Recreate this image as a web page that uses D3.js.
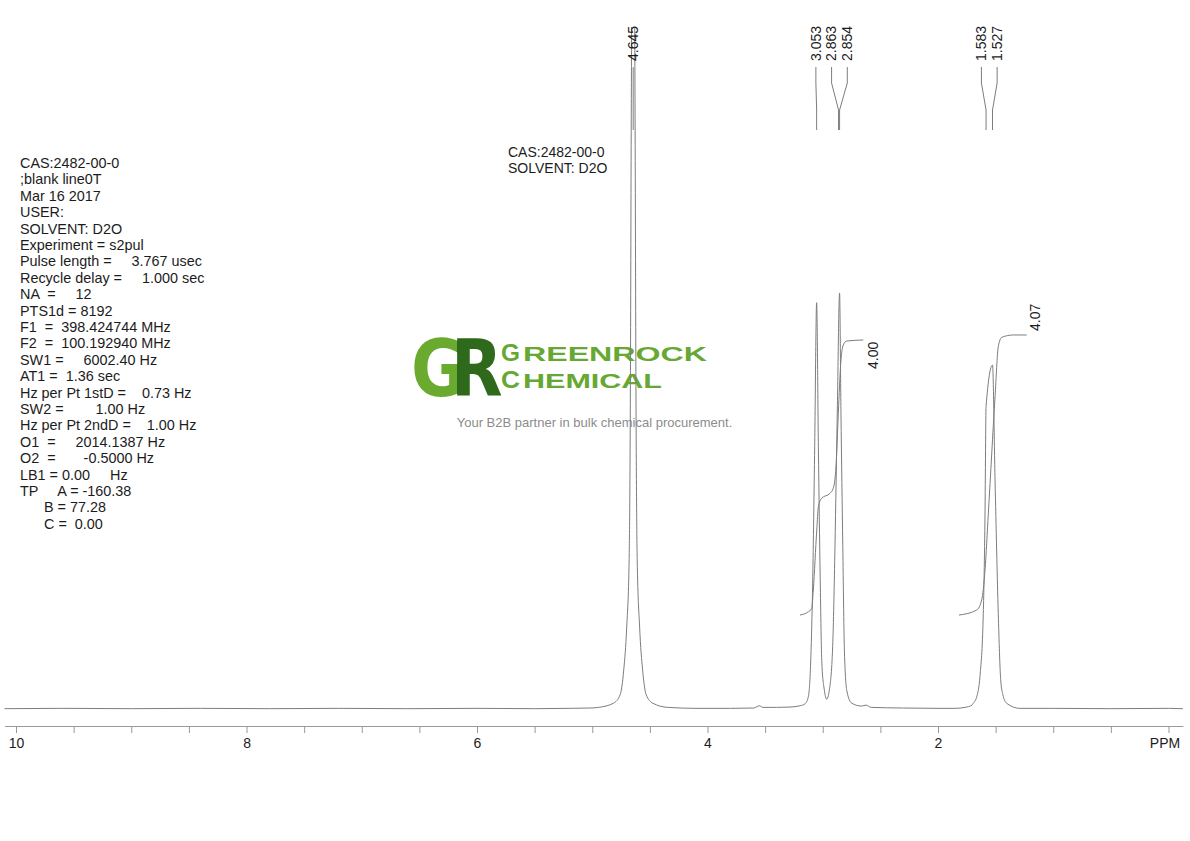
<!DOCTYPE html>
<html><head><meta charset="utf-8">
<script src="https://cdn.jsdelivr.net/npm/d3@7"></script>
<style>
html,body{margin:0;padding:0;background:#fff;}
svg{display:block;font-family:"Liberation Sans",Arial,sans-serif;}
</style></head><body>
<svg id="chart" width="1190" height="841"></svg>
<script>
// ---------- DATA ----------
const spectrumPPM = [10.10, 9.60, 9.00, 8.40, 7.80, 7.20, 6.60, 6.00, 5.50, 5.20, 5.02,
  4.945, 4.815, 4.758, 4.727, 4.701, 4.680, 4.669, 4.662, 4.645, 4.628, 4.621, 4.610, 4.589, 4.563, 4.532, 4.475, 4.345,
  4.10, 3.80, 3.60, 3.55, 3.52, 3.40, 3.284, 3.197, 3.154, 3.125, 3.105, 3.087, 3.070, 3.053, 3.038, 3.022, 3.008, 2.986,
  2.966, 2.943, 2.914, 2.894, 2.874, 2.854, 2.842, 2.826, 2.813, 2.792, 2.749, 2.662, 2.625, 2.58, 2.30, 2.00,
  1.852, 1.766, 1.705, 1.694, 1.662, 1.636, 1.607, 1.592, 1.583, 1.527, 1.505, 1.477, 1.456, 1.437, 1.404, 1.289,
  1.00, 0.50, 0.00, -0.125];
const spectrumIntensity = [0.05, 0.1, 0.05, 0.1, 0.05, 0.1, 0.05, 0.1, 0.05, 0.1, 0.15,
  0.25, 0.9, 2.2, 6.0, 12.6, 23.0, 50, 89, 140, 89, 50, 23.0, 12.6, 6.0, 2.2, 0.9, 0.25,
  0.1, 0.1, 0.15, 0.5, 0.25, 0.25, 0.3, 0.5, 0.8, 1.9, 7.1, 19.9, 40.4, 62.6, 40.4, 19.9, 7.1, 2.9,
  1.5, 2.9, 9.6, 25.0, 45.6, 64.1, 45.6, 25.0, 9.6, 2.9, 0.9, 0.45, 0.6, 0.25, 0.15, 0.1,
  0.1, 0.25, 0.6, 0.88, 2.0, 5.0, 14.7, 30.2, 46.6, 53.0, 35.3, 14.7, 4.5, 2.2, 0.88, 0.1,
  0.1, 0.05, 0.1, 0.05];

const integral1PPM   = [3.197, 3.125, 3.095, 3.082, 3.052, 3.038, 3.009, 2.937, 2.909, 2.885, 2.865, 2.844, 2.822, 2.792, 2.648];
const integral1Value = [14.48, 14.99, 15.52, 18.34, 27.58, 31.17, 32.47, 33.24, 34.01, 37.33, 45.56, 53.27, 56.09, 56.70, 56.86];
const integral2PPM   = [1.818, 1.664, 1.621, 1.592, 1.563, 1.505, 1.477, 1.447, 1.346, 1.230];
const integral2Value = [14.48, 15.25, 16.80, 21.42, 30.20, 48.12, 55.82, 57.27, 57.63, 57.63];
const integralLabels = ["4.00", "4.07"];

const peakLabelPPM = [4.645, 3.053, 2.863, 2.854, 1.583, 1.527];

const tickPPM    = [10, 9.5, 9, 8.5, 8, 7.5, 7, 6.5, 6, 5.5, 5, 4.5, 4, 3.5, 3, 2.5, 2, 1.5, 1, 0.5, 0];
const tickLabels = ["10","","","","8","","","","6","","","","4","","","","2","","","","PPM"];

const parameterLines = [
  "CAS:2482-00-0",
  ";blank line0T",
  "Mar 16 2017",
  "USER:",
  "SOLVENT: D2O",
  "Experiment = s2pul",
  "Pulse length =     3.767 usec",
  "Recycle delay =     1.000 sec",
  "NA  =     12",
  "PTS1d = 8192",
  "F1  =  398.424744 MHz",
  "F2  =  100.192940 MHz",
  "SW1 =     6002.40 Hz",
  "AT1 =  1.36 sec",
  "Hz per Pt 1stD =    0.73 Hz",
  "SW2 =        1.00 Hz",
  "Hz per Pt 2ndD =    1.00 Hz",
  "O1  =     2014.1387 Hz",
  "O2  =       -0.5000 Hz",
  "LB1 = 0.00     Hz",
  "TP     A = -160.38",
  "      B = 77.28",
  "      C =  0.00"
];
const sampleLines = ["CAS:2482-00-0", "SOLVENT: D2O"];
const logoMark = "GR";
const logoWord1 = ["G", "REENROCK"];
const logoWord2 = ["C", "HEMICAL"];
const tagline = "Your B2B partner in bulk chemical procurement.";

// ---------- DRAWING ----------
const svg = d3.select("#chart");
const textColor = "#1c1c1c";
const lineColor = "#7d7d7d";

const x = d3.scaleLinear().domain([10.1, -0.125]).range([4.5, 1182.9]);
const y = d3.scaleLinear().domain([0, 100]).range([709, 60]);

const defs = svg.append("defs");
defs.append("clipPath").attr("id", "plotclip")
  .append("rect").attr("x", 0).attr("y", 27).attr("width", 1190).attr("height", 700);
const grad = defs.append("linearGradient").attr("id", "grfill")
  .attr("gradientUnits", "userSpaceOnUse").attr("x1", 0).attr("x2", 200).attr("y1", 0).attr("y2", 0);
grad.append("stop").attr("offset", 0.2675).attr("stop-color", "#6aab2f");
grad.append("stop").attr("offset", 0.2675).attr("stop-color", "#2f6a1c");

// parameter block
const pb = svg.append("text").attr("font-size", 14.4).attr("fill", textColor)
  .style("white-space", "pre").attr("xml:space", "preserve");
pb.selectAll("tspan").data(parameterLines).join("tspan")
  .attr("x", 20).attr("y", (d, i) => 168 + i * 16.4).text(d => d);

// sample block
const sb = svg.append("text").attr("font-size", 14).attr("fill", textColor).style("white-space", "pre");
sb.selectAll("tspan").data(sampleLines).join("tspan")
  .attr("x", 508).attr("y", (d, i) => 157 + i * 16.4).text(d => d);

// logo
const logo = svg.append("g");
logo.append("text").attr("transform", "translate(411,396) scale(0.86,1)")
  .attr("font-family", "DejaVu Sans").attr("font-weight", "bold").attr("font-size", 78)
  .style("letter-spacing", "-17.5px").attr("fill", "url(#grfill)").text(logoMark);

const logoText = (parts, baseline, endX) => {
  logo.append("text").attr("x", 501).attr("y", baseline)
    .attr("font-weight", "bold").attr("font-size", 24).attr("fill", "#67a832")
    .attr("textLength", 19).attr("lengthAdjust", "spacingAndGlyphs").text(parts[0]);
  logo.append("text").attr("x", 523).attr("y", baseline)
    .attr("font-weight", "bold").attr("font-size", 20.5).attr("fill", "#67a832")
    .attr("textLength", endX - 523).attr("lengthAdjust", "spacingAndGlyphs").text(parts[1]);
};
logoText(logoWord1, 361, 707);
logoText(logoWord2, 388, 662);

svg.append("text").attr("x", 594.5).attr("y", 427).attr("text-anchor", "middle")
  .attr("font-size", 13).attr("fill", "#8c8c8c").text(tagline);

// spectrum
const spectrum = spectrumPPM.map((p, i) => [p, spectrumIntensity[i]]);
const line = d3.line().x(d => x(d[0])).y(d => y(d[1])).curve(d3.curveMonotoneX);
svg.append("path").datum(spectrum).attr("clip-path", "url(#plotclip)")
  .attr("fill", "none").attr("stroke", lineColor).attr("stroke-width", 1).attr("d", line);

// integrals
const integrals = [
  integral1PPM.map((p, i) => [p, integral1Value[i]]),
  integral2PPM.map((p, i) => [p, integral2Value[i]])
];
const intLine = d3.line().x(d => x(d[0])).y(d => y(d[1])).curve(d3.curveMonotoneX);
const labelOffsets = [[9.7, 29], [8.3, -4]];
integrals.forEach((pts, k) => {
  svg.append("path").datum(pts).attr("fill", "none").attr("stroke", lineColor)
    .attr("stroke-width", 1).attr("d", intLine);
  const end = pts[pts.length - 1];
  const ex = x(end[0]) + labelOffsets[k][0], ey = y(end[1]) + labelOffsets[k][1];
  svg.append("text").attr("transform", `translate(${ex},${ey}) rotate(-90)`)
    .attr("dy", "0.35em").attr("font-size", 14).attr("fill", textColor).text(integralLabels[k]);
});

// peak labels with spread
const minGap = 15.7;
let clusters = peakLabelPPM.map(p => ({ items: [p] }));
const place = c => {
  const mean = d3.mean(c.items, p => x(p));
  const n = c.items.length;
  c.pos = c.items.map((p, i) => mean + (i - (n - 1) / 2) * minGap);
};
clusters.forEach(place);
let merged = true;
while (merged) {
  merged = false;
  for (let i = 0; i < clusters.length - 1; i++) {
    const a = clusters[i], b = clusters[i + 1];
    if (b.pos[0] - a.pos[a.pos.length - 1] < minGap) {
      const c = { items: a.items.concat(b.items) };
      place(c);
      clusters.splice(i, 2, c);
      merged = true;
      break;
    }
  }
}
const labels = [];
clusters.forEach(c => c.items.forEach((p, i) => labels.push({ ppm: p, lx: c.pos[i] })));
const lg = svg.append("g");
labels.forEach(d => {
  const px = x(d.ppm);
  lg.append("path").attr("fill", "none").attr("stroke", lineColor).attr("stroke-width", 1)
    .attr("d", `M${d.lx},67 L${d.lx},83 L${px},110 L${px},130`);
  lg.append("text").attr("transform", `translate(${d.lx},61) rotate(-90)`)
    .attr("dy", "0.35em").attr("font-size", 14).attr("fill", textColor)
    .text(d.ppm.toFixed(3));
});

// axis
const axis = d3.axisBottom(x).tickValues(tickPPM).tickSize(7).tickSizeOuter(0).tickPadding(5)
  .tickFormat((d, i) => tickLabels[i]);
const ax = svg.append("g").attr("transform", "translate(0,726)").call(axis);
ax.select(".domain").attr("stroke", "#9a9a9a");
ax.selectAll(".tick line").attr("stroke", "#9a9a9a");
ax.selectAll(".tick text").attr("font-size", 14).attr("fill", textColor)
  .attr("font-family", "Liberation Sans, Arial, sans-serif")
  .attr("dx", (d, i) => tickLabels[i] === "PPM" ? -4 : 0);
</script>
</body></html>
